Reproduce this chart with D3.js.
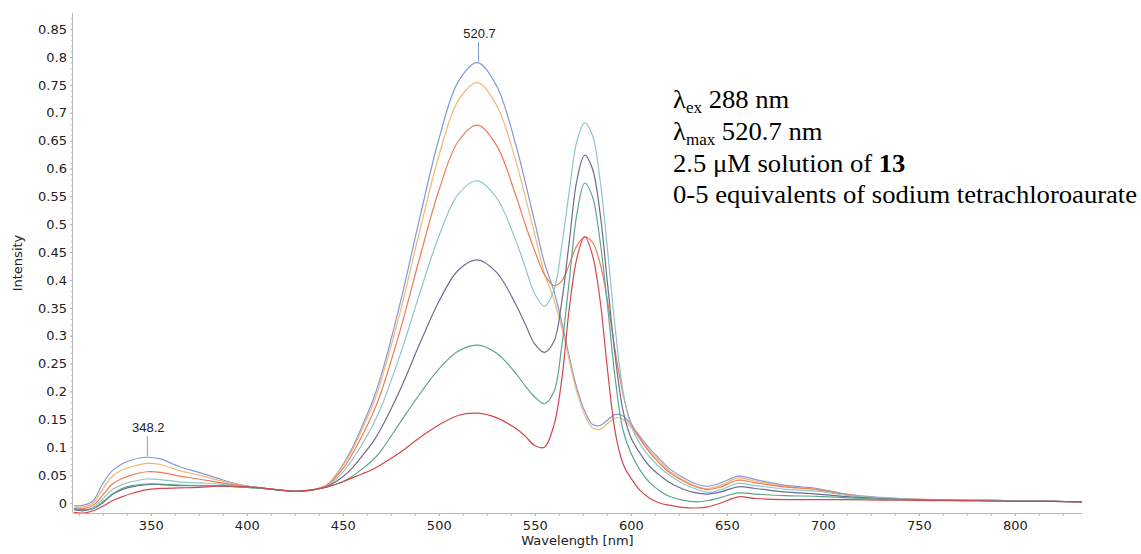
<!DOCTYPE html>
<html>
<head>
<meta charset="utf-8">
<script src="https://cdn.jsdelivr.net/npm/d3@7"></script>
<style>
  html, body { margin: 0; padding: 0; background: #fff; }
  svg { display: block; }
</style>
</head>
<body>
<svg id="chart" width="1141" height="554"></svg>
<script>
// Emission spectra, 0-5 equivalents of gold salt
const wavelengths = [310,315,320,325,330,335,340,348,355,365,375,385,395,405,415,425,435,442,450,455,460,466,470,480,490,500,510,520,530,540,545,550,555,560,564,568,572,576,580,584,588,592,596,600,605,610,615,620,627,634,640,647,656,665,680,697,714,730,745,760,780,800,820,835];

const eq0 = [-0.005,-0.004,0.004,0.035,0.058,0.07,0.077,0.082,0.079,0.065,0.055,0.044,0.034,0.028,0.024,0.021,0.024,0.033,
  0.068,0.099,0.137,0.187,0.229,0.36,0.51,0.652,0.755,0.79,0.749,0.644,0.576,0.504,0.431,0.38,0.325,0.262,0.205,0.165,0.141,0.139,0.149,0.159,0.156,0.141,0.118,0.097,0.079,0.062,0.046,0.034,0.03,0.036,0.048,0.042,0.032,0.026,0.015,0.01,0.007,0.006,0.005,0.004,0.003,0.002];
const eq1 = [-0.008,-0.007,0.0,0.025,0.048,0.059,0.065,0.071,0.069,0.058,0.05,0.041,0.033,0.028,0.024,0.021,0.024,0.033,
  0.066,0.095,0.132,0.179,0.22,0.344,0.487,0.622,0.721,0.754,0.714,0.615,0.55,0.482,0.412,0.365,0.315,0.255,0.198,0.158,0.135,0.132,0.143,0.153,0.15,0.136,0.114,0.093,0.075,0.058,0.042,0.03,0.026,0.032,0.045,0.039,0.03,0.024,0.014,0.009,0.007,0.006,0.005,0.004,0.003,0.002];
const eq2 = [-0.01,-0.01,-0.004,0.014,0.034,0.044,0.05,0.056,0.055,0.048,0.043,0.037,0.032,0.028,0.024,0.021,0.024,0.032,
  0.061,0.088,0.12,0.163,0.199,0.311,0.439,0.56,0.648,0.678,0.642,0.553,0.5,0.452,0.41,0.39,0.398,0.428,0.462,0.477,0.468,0.43,0.36,0.27,0.195,0.145,0.114,0.09,0.071,0.055,0.04,0.029,0.024,0.029,0.041,0.036,0.029,0.024,0.014,0.009,0.007,0.006,0.005,0.004,0.003,0.002];
const eq3 = [-0.012,-0.013,-0.008,0.007,0.024,0.033,0.038,0.043,0.042,0.038,0.036,0.034,0.031,0.028,0.024,0.021,0.024,0.031,
  0.055,0.078,0.105,0.142,0.172,0.267,0.375,0.478,0.553,0.578,0.548,0.472,0.423,0.375,0.353,0.382,0.46,0.56,0.65,0.682,0.66,0.58,0.45,0.31,0.2,0.14,0.105,0.082,0.064,0.05,0.035,0.025,0.019,0.024,0.035,0.031,0.025,0.021,0.013,0.009,0.007,0.006,0.005,0.004,0.003,0.002];
const eq4 = [-0.012,-0.014,-0.01,0.0,0.015,0.024,0.029,0.033,0.033,0.031,0.031,0.031,0.029,0.027,0.024,0.021,0.024,0.03,
  0.047,0.063,0.084,0.111,0.134,0.204,0.285,0.361,0.417,0.436,0.414,0.357,0.321,0.285,0.27,0.29,0.36,0.47,0.58,0.624,0.6,0.52,0.39,0.26,0.165,0.118,0.088,0.065,0.05,0.037,0.025,0.018,0.016,0.02,0.029,0.026,0.02,0.016,0.011,0.008,0.006,0.005,0.004,0.003,0.003,0.002];
const eq5 = [-0.01,-0.012,-0.01,0.002,0.016,0.026,0.031,0.034,0.034,0.032,0.031,0.031,0.029,0.027,0.024,0.021,0.024,0.029,
  0.038,0.048,0.061,0.078,0.094,0.145,0.195,0.24,0.272,0.283,0.269,0.233,0.21,0.19,0.178,0.2,0.28,0.4,0.52,0.574,0.55,0.47,0.35,0.22,0.13,0.09,0.058,0.036,0.022,0.012,0.005,0.002,0.004,0.01,0.018,0.016,0.013,0.012,0.009,0.007,0.006,0.005,0.004,0.003,0.003,0.002];
const eq6 = [-0.017,-0.018,-0.014,-0.006,0.004,0.011,0.017,0.024,0.026,0.027,0.028,0.03,0.03,0.028,0.024,0.021,0.024,0.029,
  0.038,0.045,0.052,0.061,0.069,0.091,0.117,0.14,0.157,0.161,0.153,0.134,0.12,0.103,0.1,0.14,0.22,0.35,0.44,0.478,0.445,0.364,0.235,0.125,0.07,0.045,0.022,0.008,0.0,-0.004,-0.008,-0.009,-0.007,0.0,0.011,0.008,0.006,0.006,0.006,0.005,0.005,0.004,0.004,0.003,0.003,0.002];

const seriesValues = [eq0, eq1, eq2, eq3, eq4, eq5, eq6];
const seriesColors = ["#8099d6", "#f6b574", "#ee7c58", "#8ec6c9", "#6e6c92", "#5ca68e", "#d2474f"];

const xTicks = [350, 400, 450, 500, 550, 600, 650, 700, 750, 800];
const yTicks = [0,0.05,0.1,0.15,0.2,0.25,0.3,0.35,0.4,0.45,0.5,0.55,0.6,0.65,0.7,0.75,0.8,0.85];
const yTickLabels = ["0","0.05","0.1","0.15","0.2","0.25","0.3","0.35","0.4","0.45","0.5","0.55","0.6","0.65","0.7","0.75","0.8","0.85"];

const peakMarks = [{label: "348.2", wl: 348.2, value: 0.082}, {label: "520.7", wl: 520.7, value: 0.79}];

const noteLines = [
  [{t: "λ"}, {t: "ex", sub: true}, {t: " 288 nm"}],
  [{t: "λ"}, {t: "max", sub: true}, {t: " 520.7 nm"}],
  [{t: "2.5 μM solution of "}, {t: "13", bold: true}],
  [{t: "0-5 equivalents of sodium tetrachloroaurate"}]
];

const svg = d3.select("#chart");
const plotLeft = 73, plotRight = 1082, plotTop = 13, plotBottom = 513;

const x = d3.scaleLinear().domain([309.5, 835]).range([plotLeft, plotRight]);
const y = d3.scaleLinear().domain([-0.018, 0.879]).range([plotBottom, plotTop]);

const axisColor = "#b8b8b8";
const labelFont = "'DejaVu Sans', Verdana, sans-serif";

svg.append("defs").append("clipPath").attr("id", "plotClip")
  .append("rect").attr("x", plotLeft).attr("y", plotTop)
  .attr("width", plotRight - plotLeft).attr("height", plotBottom - plotTop);

// Y axis: minor ticks every 0.01, labelled ticks every 0.05
const yMinor = d3.range(0, 88).map(i => i / 100);
svg.append("g").attr("transform", `translate(${plotLeft},0)`)
  .call(d3.axisLeft(y).tickValues(yMinor).tickSize(2).tickFormat(""))
  .call(g => g.select(".domain").remove())
  .call(g => g.selectAll("line").attr("stroke", axisColor));
const yAxis = svg.append("g").attr("transform", `translate(${plotLeft},0)`)
  .call(d3.axisLeft(y).tickValues(yTicks).tickSize(3).tickPadding(3).tickFormat((d, i) => yTickLabels[i]));
yAxis.select(".domain").attr("d", `M-0.5,${plotTop}V${plotBottom}`).attr("stroke", axisColor);
yAxis.selectAll("line").attr("stroke", axisColor);
yAxis.selectAll("text").attr("font-family", labelFont).attr("font-size", 13).attr("fill", "#222");

// X axis: minor ticks every 12.5 nm
const xMinor = d3.range(312.5, 835, 12.5);
svg.append("g").attr("transform", `translate(0,${plotBottom})`)
  .call(d3.axisBottom(x).tickValues(xMinor).tickSize(3).tickFormat(""))
  .call(g => g.select(".domain").remove())
  .call(g => g.selectAll("line").attr("stroke", axisColor));
const xAxis = svg.append("g").attr("transform", `translate(0,${plotBottom})`)
  .call(d3.axisBottom(x).tickValues(xTicks).tickSize(3).tickPadding(5).tickFormat(d3.format("d")));
xAxis.select(".domain").attr("d", `M${plotLeft},0.5H${plotRight}`).attr("stroke", axisColor);
xAxis.selectAll("line").attr("stroke", axisColor);
xAxis.selectAll("text").attr("font-family", labelFont).attr("font-size", 13).attr("fill", "#222");

// Axis titles
svg.append("text")
  .attr("x", (plotLeft + plotRight) / 2).attr("y", 545)
  .attr("text-anchor", "middle")
  .attr("font-family", labelFont).attr("font-size", 13).attr("fill", "#222")
  .text("Wavelength [nm]");
svg.append("text")
  .attr("transform", `translate(22,${(plotTop + plotBottom) / 2}) rotate(-90)`)
  .attr("text-anchor", "middle")
  .attr("font-family", labelFont).attr("font-size", 13).attr("fill", "#222")
  .text("Intensity");

// Spectra
const line = d3.line()
  .x(d => x(d[0]))
  .y(d => y(d[1]))
  .curve(d3.curveCatmullRom.alpha(0.5));

const plot = svg.append("g").attr("clip-path", "url(#plotClip)");
seriesValues.forEach((vals, i) => {
  plot.append("path")
    .datum(wavelengths.map((w, j) => [w, vals[j]]))
    .attr("fill", "none")
    .attr("stroke", seriesColors[i])
    .attr("stroke-width", 1.2)
    .attr("stroke-linejoin", "round")
    .attr("d", line);
});

// Peak markers
peakMarks.forEach(p => {
  const px = x(p.wl), py = y(p.value);
  svg.append("line")
    .attr("x1", px).attr("x2", px)
    .attr("y1", py - 1).attr("y2", py - 21)
    .attr("stroke", "#8099d6").attr("stroke-width", 1);
  svg.append("text")
    .attr("x", px + 1).attr("y", py - 25)
    .attr("text-anchor", "middle")
    .attr("font-family", "'Liberation Sans', Arial, sans-serif")
    .attr("font-size", 13).attr("fill", "#222")
    .text(p.label);
});

// Annotation block
const note = svg.append("g")
  .attr("transform", "translate(673,0) scale(1.065,1)")
  .attr("font-family", "'Liberation Serif', 'Times New Roman', serif")
  .attr("font-size", 25).attr("fill", "#000");
noteLines.forEach((parts, i) => {
  const t = note.append("text").attr("x", 0).attr("y", 108.5 + i * 31.6);
  let shifted = false;
  parts.forEach(p => {
    const s = t.append("tspan").text(p.t);
    if (p.sub) { s.attr("font-size", 16).attr("dy", 5); shifted = true; }
    else if (shifted) { s.attr("dy", -5); shifted = false; }
    if (p.bold) s.attr("font-weight", "bold");
  });
});
</script>
</body>
</html>
